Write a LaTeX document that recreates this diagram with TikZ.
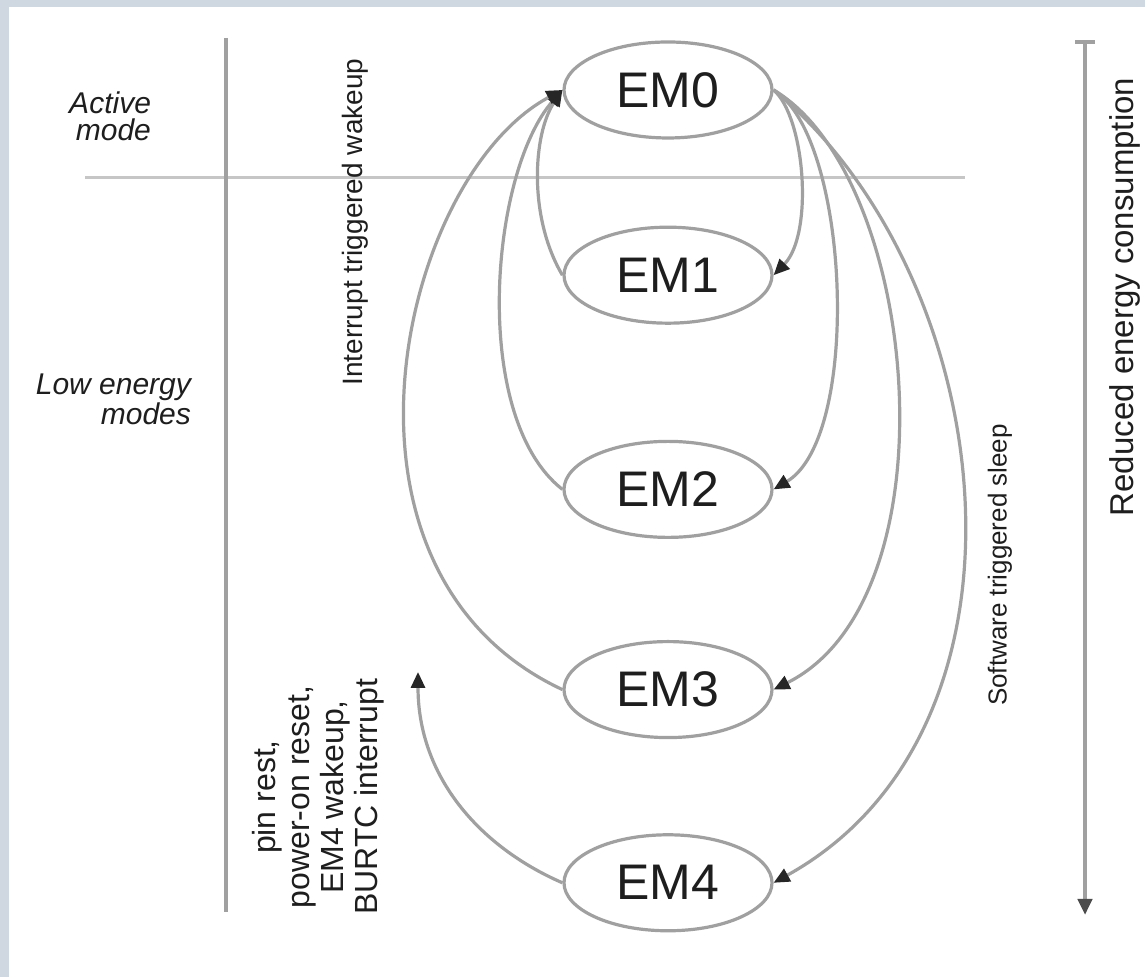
\documentclass[tikz,border=0pt]{standalone}
\usepackage{fontspec}
\setmainfont{Liberation Sans}
\usepackage{xcolor}
\usetikzlibrary{arrows.meta, positioning, shapes.geometric}

\definecolor{framebg}{RGB}{207,216,224}
\definecolor{linegray}{RGB}{160,160,160}
\definecolor{inkgray}{RGB}{30,30,30}

\begin{document}
\begin{tikzpicture}[
    x=0.5pt, y=0.5pt,
    emnode/.style={ellipse, draw=linegray, line width=1.6pt, minimum width=104pt, minimum height=48pt, inner sep=0pt, font=\fontsize{25}{30}\selectfont, text=inkgray},
    wire/.style={draw=linegray, line width=1.6pt, -{Triangle[length=8pt, width=7pt, color=black!85]}},
    sidetext/.style={font=\fontsize{15}{13.5}\selectfont\itshape, align=right, text=inkgray},
    vlabel/.style={rotate=90, text=inkgray, inner sep=0pt},
]

% frame
\fill[framebg] (0,0) rectangle (1145,977);
\fill[white] (9,0) rectangle (1145,970);

% energy modes
\node[emnode] (em0) at (668,887) {EM0};
\node[emnode, below=43pt of em0] (em1) {EM1};
\node[emnode, below=57.5pt of em1] (em2) {EM2};
\node[emnode, below=50.5pt of em2] (em3) {EM3};
\node[emnode, below=47pt of em3] (em4) {EM4};

% guides
\draw[linegray!60, line width=1.5pt] (85,799) -- (965,799);
\draw[linegray, line width=1.6pt] (226,939) -- (226,65);
\draw[linegray, line width=2pt, {Bar[width=10pt]}-{Triangle[length=8pt, width=7pt, color=black!70]}] (1085,937) -- (1085,62);

% labels
\node[sidetext, anchor=east] (act) at (158,861) {Active\\mode};
\node[sidetext, anchor=east] (low) at (198,578) {Low energy\\modes};
\node[vlabel, font=\fontsize{14}{16}\selectfont] (wake) at (355,755) {Interrupt triggered wakeup};
\node[vlabel, font=\fontsize{13}{15}\selectfont] (sleep) at (1000,412) {Software triggered sleep};
\node[vlabel, font=\fontsize{16.5}{18}\selectfont] (less) at (1125,680) {Reduced energy consumption};
\node[vlabel, align=center, font=\fontsize{16}{17}\selectfont] (rst) at (318,180) {pin rest,\\power-on reset,\\EM4 wakeup,\\BURTC interrupt};

% interrupt wakeup
\draw[wire] (em1.west) .. controls (528,760) and (533,843) .. (em0.west);
\draw[wire] (em2.west) .. controls (470,560) and (490,804) .. (em0.west);
\draw[wire] (em3.west) .. controls (309,406) and (400,800) .. (em0.west);

% software sleep
\draw[wire] (em0.east) .. controls (805,860) and (814,743) .. (em1.east);
\draw[wire] (em0.east) .. controls (850,840) and (862,540) .. (em2.east);
\draw[wire] (em0.east) .. controls (920,800) and (957,379) .. (em3.east);
\draw[wire] (em0.east) .. controls (1000,700) and (1053,249) .. (em4.east);

% reset from EM4
\coordinate (wk) at (418,305);
\draw[wire] (em4.west) .. controls (480,130) and (418,200) .. (wk);

\end{tikzpicture}
\end{document}
